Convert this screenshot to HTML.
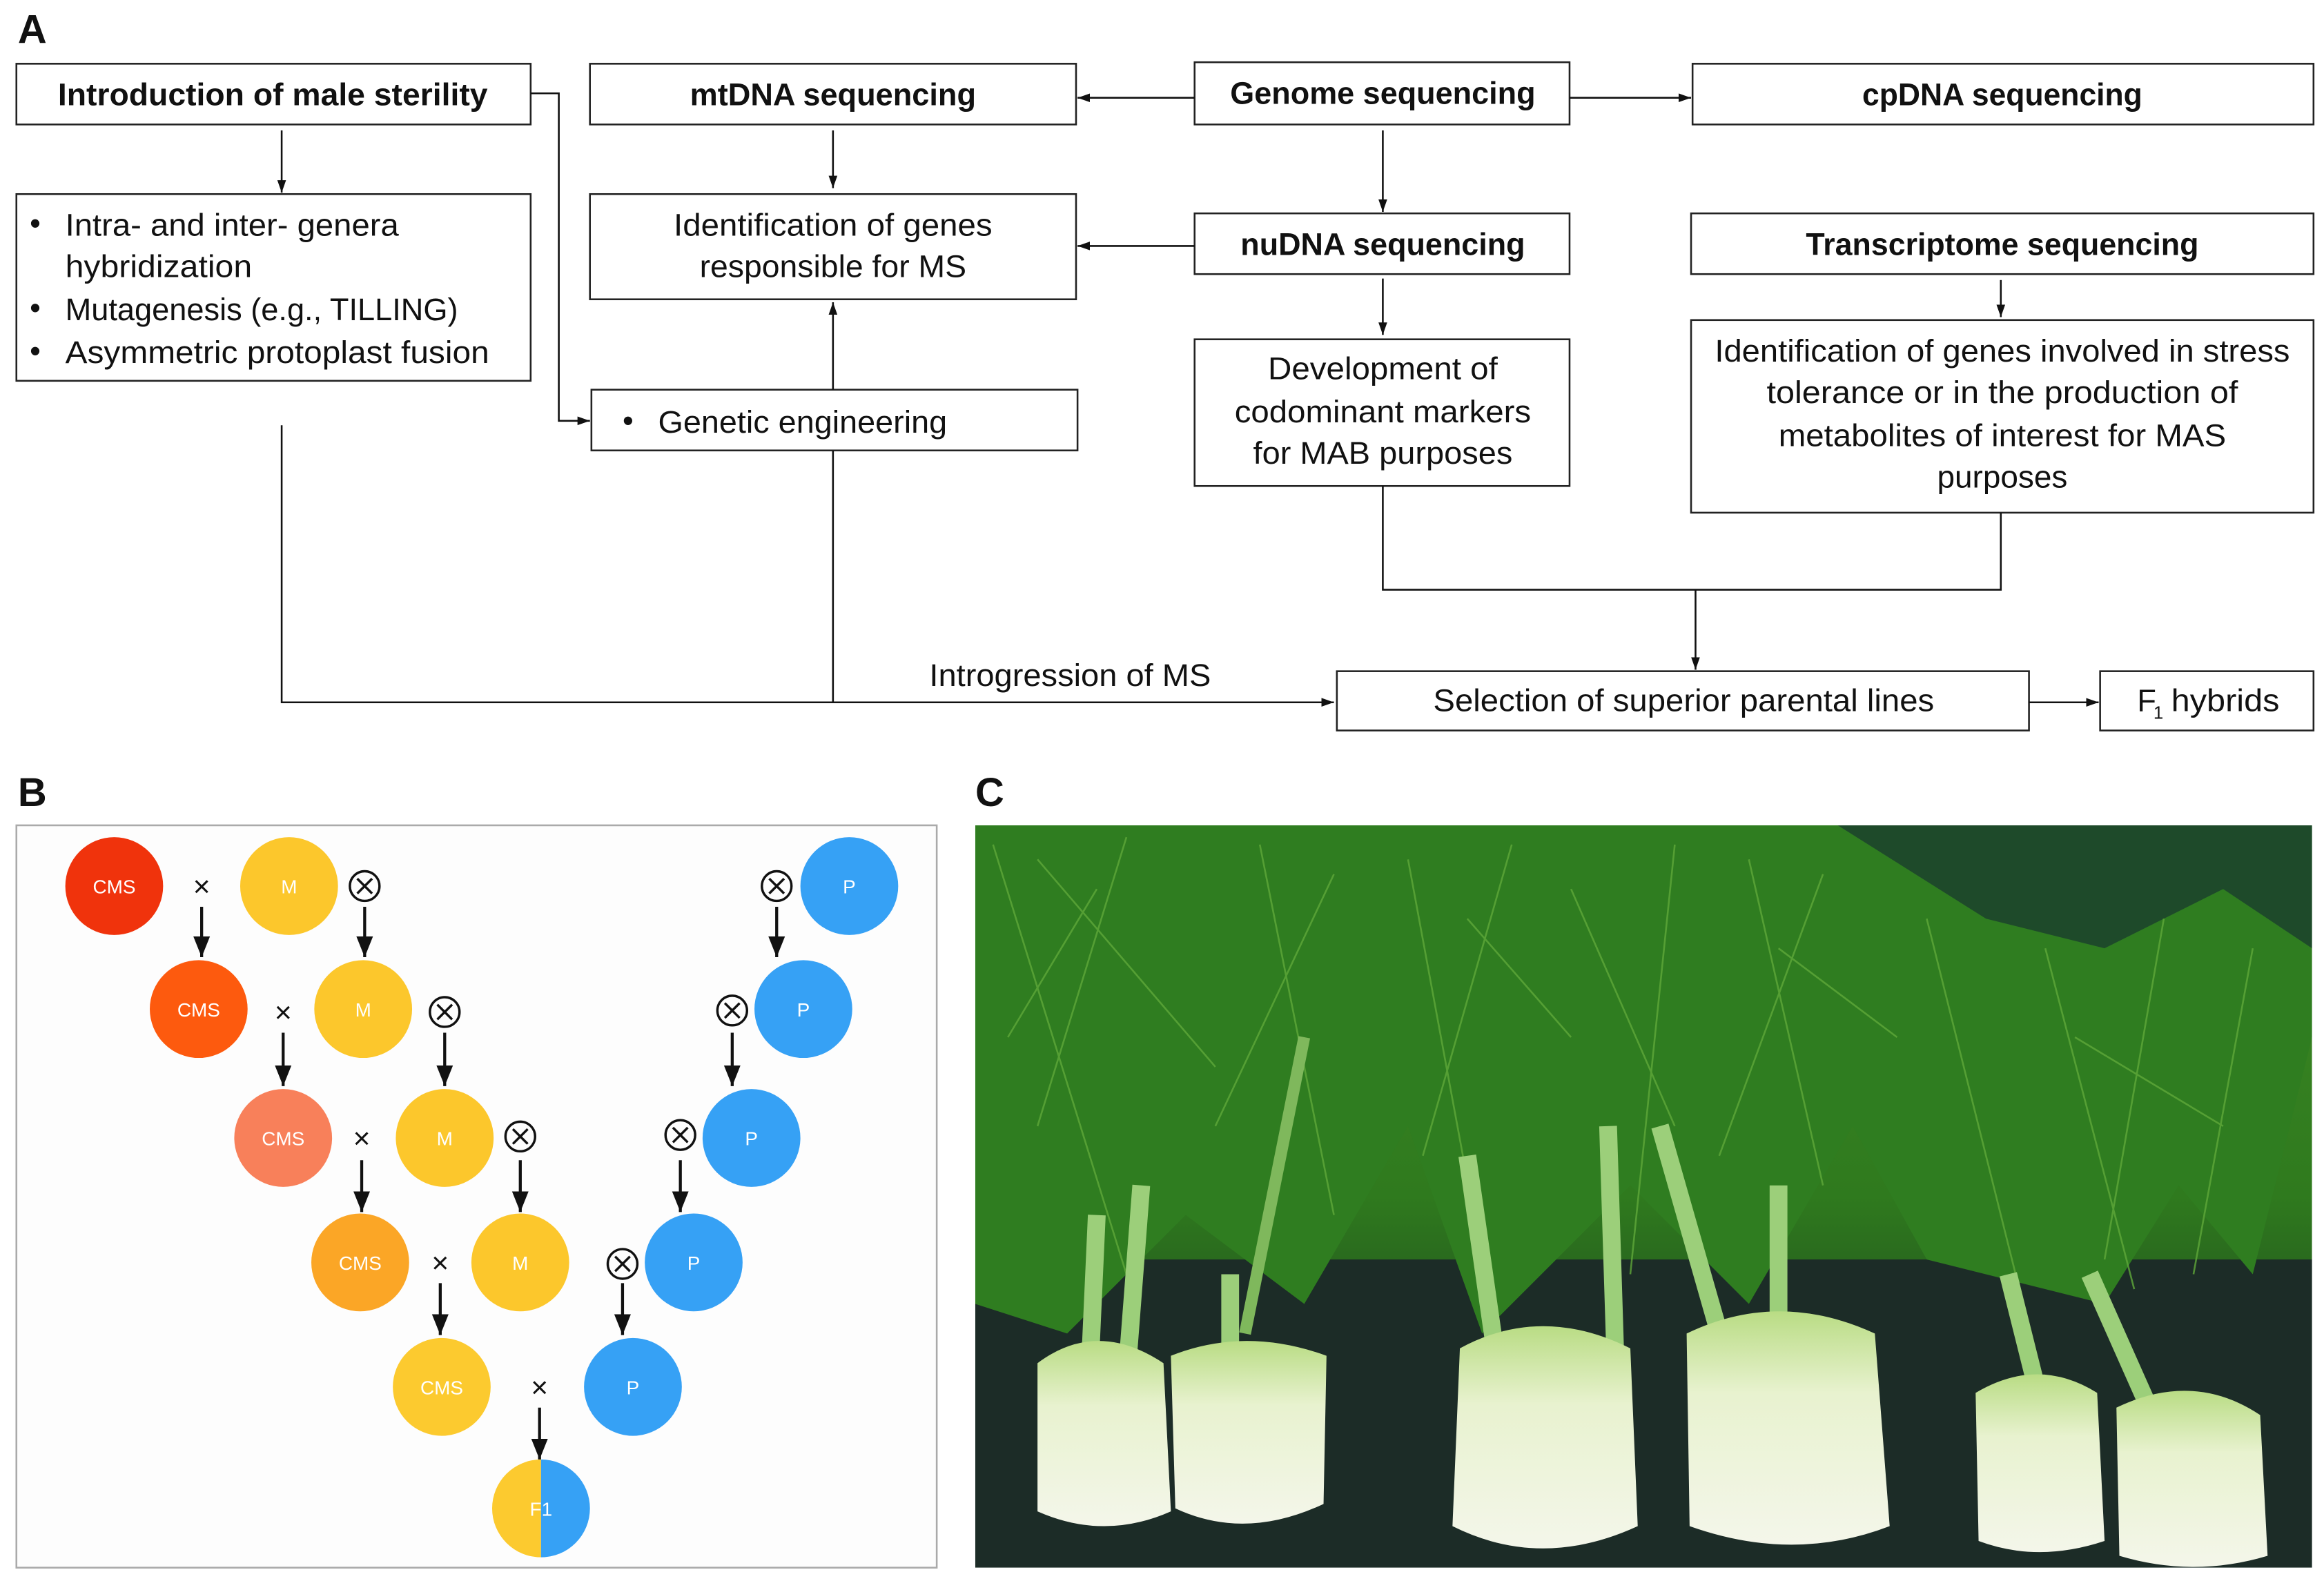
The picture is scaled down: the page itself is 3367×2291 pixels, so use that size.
<!DOCTYPE html>
<html><head><meta charset="utf-8"><style>
html,body{margin:0;padding:0;background:#fff}
svg{display:block}
text{font-family:"Liberation Sans",sans-serif;fill:#111}
.b{font-weight:bold}
</style></head><body>
<svg width="3367" height="2291" viewBox="0 0 1568 1067" xmlns="http://www.w3.org/2000/svg">
<defs>
<marker id="ar" viewBox="0 0 10 10" refX="10" refY="5" markerWidth="7" markerHeight="7" orient="auto-start-reverse"><path d="M0,1 L10,5 L0,9 z" fill="#111"/></marker>
<marker id="ar2" viewBox="0 0 10 10" refX="10" refY="5" markerWidth="7" markerHeight="7" orient="auto"><path d="M0,1.5 L10,5 L0,8.5 z" fill="#111"/></marker>
<linearGradient id="fol" x1="0" y1="0" x2="0" y2="1"><stop offset="0" stop-color="#3f8a25"/><stop offset="0.5" stop-color="#2f7a1e"/><stop offset="0.7" stop-color="#23561d"/><stop offset="1" stop-color="#1a2e25"/></linearGradient>
<linearGradient id="bulb" x1="0" y1="0" x2="0" y2="1"><stop offset="0" stop-color="#b9dc84"/><stop offset="0.35" stop-color="#e8f2cf"/><stop offset="1" stop-color="#f4f6ea"/></linearGradient>
</defs>
<g fill="none" stroke="#222" stroke-width="1.2">
<text x="12" y="29" class="b" style="font-size:27px" stroke="none">A</text>
<rect x="11" y="43" width="347" height="41"/>
<rect x="398" y="43" width="328" height="41"/>
<rect x="806" y="42" width="253" height="42"/>
<rect x="1142" y="43" width="419" height="41"/>
<rect x="11" y="131" width="347" height="126"/>
<rect x="398" y="131" width="328" height="71"/>
<rect x="806" y="144" width="253" height="41"/>
<rect x="1141" y="144" width="420" height="41"/>
<rect x="399" y="263" width="328" height="41"/>
<rect x="806" y="229" width="253" height="99"/>
<rect x="1141" y="216" width="420" height="130"/>
<rect x="902" y="453" width="467" height="40"/>
<rect x="1417" y="453" width="144" height="40"/>
</g>
<g stroke="#111" stroke-width="1.2" fill="none">
<line x1="190" y1="88" x2="190" y2="130" marker-end="url(#ar2)"/>
<polyline points="358,63 377,63 377,284 398,284" marker-end="url(#ar2)"/>
<line x1="562" y1="88" x2="562" y2="127" marker-end="url(#ar2)"/>
<line x1="806" y1="66" x2="727" y2="66" marker-end="url(#ar2)"/>
<line x1="1059" y1="66" x2="1141" y2="66" marker-end="url(#ar2)"/>
<line x1="933" y1="88" x2="933" y2="143" marker-end="url(#ar2)"/>
<line x1="806" y1="166" x2="727" y2="166" marker-end="url(#ar2)"/>
<line x1="933" y1="188" x2="933" y2="226" marker-end="url(#ar2)"/>
<line x1="1350" y1="189" x2="1350" y2="214" marker-end="url(#ar2)"/>
<line x1="562" y1="263" x2="562" y2="204" marker-end="url(#ar2)"/>
<line x1="562" y1="304" x2="562" y2="474"/>
<polyline points="190,287 190,474 900,474" marker-end="url(#ar2)"/>
<polyline points="933,328 933,398 1350,398 1350,346"/>
<line x1="1144" y1="398" x2="1144" y2="452" marker-end="url(#ar2)"/>
<line x1="1369" y1="474" x2="1416" y2="474" marker-end="url(#ar2)"/>
</g>
<g style="font-size:21px">
<text x="184" y="71" class="b" text-anchor="middle" textLength="290" lengthAdjust="spacingAndGlyphs">Introduction of male sterility</text>
<text x="562" y="71" class="b" text-anchor="middle" textLength="193" lengthAdjust="spacingAndGlyphs">mtDNA sequencing</text>
<text x="933" y="70" class="b" text-anchor="middle" textLength="206" lengthAdjust="spacingAndGlyphs">Genome sequencing</text>
<text x="1351" y="71" class="b" text-anchor="middle" textLength="189" lengthAdjust="spacingAndGlyphs">cpDNA sequencing</text>
<text x="933" y="172" class="b" text-anchor="middle" textLength="192" lengthAdjust="spacingAndGlyphs">nuDNA sequencing</text>
<text x="1351" y="172" class="b" text-anchor="middle" textLength="265" lengthAdjust="spacingAndGlyphs">Transcriptome sequencing</text>
<text x="20" y="158">•</text><text x="44" y="159" textLength="225" lengthAdjust="spacingAndGlyphs">Intra- and inter- genera</text>
<text x="44" y="187" textLength="126" lengthAdjust="spacingAndGlyphs">hybridization</text>
<text x="20" y="215">•</text><text x="44" y="216" textLength="265" lengthAdjust="spacingAndGlyphs">Mutagenesis (e.g., TILLING)</text>
<text x="20" y="244">•</text><text x="44" y="245" textLength="286" lengthAdjust="spacingAndGlyphs">Asymmetric protoplast fusion</text>
<text x="562" y="159" text-anchor="middle" textLength="215" lengthAdjust="spacingAndGlyphs">Identification of genes</text>
<text x="562" y="187" text-anchor="middle" textLength="180" lengthAdjust="spacingAndGlyphs">responsible for MS</text>
<text x="420" y="291">•</text><text x="444" y="292" textLength="195" lengthAdjust="spacingAndGlyphs">Genetic engineering</text>
<text x="933" y="256" text-anchor="middle" textLength="155" lengthAdjust="spacingAndGlyphs">Development of</text>
<text x="933" y="285" text-anchor="middle" textLength="200" lengthAdjust="spacingAndGlyphs">codominant markers</text>
<text x="933" y="313" text-anchor="middle" textLength="175" lengthAdjust="spacingAndGlyphs">for MAB purposes</text>
<text x="1351" y="244" text-anchor="middle" textLength="388" lengthAdjust="spacingAndGlyphs">Identification of genes involved in stress</text>
<text x="1351" y="272" text-anchor="middle" textLength="318" lengthAdjust="spacingAndGlyphs">tolerance or in the production of</text>
<text x="1351" y="301" text-anchor="middle" textLength="302" lengthAdjust="spacingAndGlyphs">metabolites of interest for MAS</text>
<text x="1351" y="329" text-anchor="middle" textLength="88" lengthAdjust="spacingAndGlyphs">purposes</text>
<text x="722" y="463" text-anchor="middle" textLength="190" lengthAdjust="spacingAndGlyphs">Introgression of MS</text>
<text x="1136" y="480" text-anchor="middle" textLength="338" lengthAdjust="spacingAndGlyphs">Selection of superior parental lines</text>
<text x="1442" y="480">F</text><text x="1453" y="485" style="font-size:12px">1</text><text x="1465" y="480" textLength="73" lengthAdjust="spacingAndGlyphs">hybrids</text>
</g>
<text x="12" y="544" class="b" style="font-size:27px">B</text>
<text x="658" y="544" class="b" style="font-size:27px">C</text>
<rect x="11" y="557" width="621" height="501" fill="#fdfdfd" stroke="#aaa" stroke-width="1.2"/>
<g style="font-size:13px" text-anchor="middle">
<g>
<circle cx="77" cy="598" r="33" fill="#f0330c"/><text x="77" y="603" style="fill:#fff">CMS</text>
<circle cx="195" cy="598" r="33" fill="#fcc72c"/><text x="195" y="603" style="fill:#fff">M</text>
<circle cx="573" cy="598" r="33" fill="#36a1f5"/><text x="573" y="603" style="fill:#fff">P</text>
<circle cx="134" cy="681" r="33" fill="#fd5a0e"/><text x="134" y="686" style="fill:#fff">CMS</text>
<circle cx="245" cy="681" r="33" fill="#fcc72c"/><text x="245" y="686" style="fill:#fff">M</text>
<circle cx="542" cy="681" r="33" fill="#36a1f5"/><text x="542" y="686" style="fill:#fff">P</text>
<circle cx="191" cy="768" r="33" fill="#f8805a"/><text x="191" y="773" style="fill:#fff">CMS</text>
<circle cx="300" cy="768" r="33" fill="#fcc72c"/><text x="300" y="773" style="fill:#fff">M</text>
<circle cx="507" cy="768" r="33" fill="#36a1f5"/><text x="507" y="773" style="fill:#fff">P</text>
<circle cx="243" cy="852" r="33" fill="#fba626"/><text x="243" y="857" style="fill:#fff">CMS</text>
<circle cx="351" cy="852" r="33" fill="#fcc72c"/><text x="351" y="857" style="fill:#fff">M</text>
<circle cx="468" cy="852" r="33" fill="#36a1f5"/><text x="468" y="857" style="fill:#fff">P</text>
<circle cx="298" cy="936" r="33" fill="#fcca2f"/><text x="298" y="941" style="fill:#fff">CMS</text>
<circle cx="427" cy="936" r="33" fill="#36a1f5"/><text x="427" y="941" style="fill:#fff">P</text>
<path d="M365,985 A33,33 0 0 0 365,1051 z" fill="#fcca2f"/>
<path d="M365,985 A33,33 0 0 1 365,1051 z" fill="#36a1f5"/>
<text x="365" y="1023" style="fill:#fff">F1</text>
</g>
<g style="font-size:20px">
<text x="136" y="605">×</text><text x="191" y="690">×</text><text x="244" y="775">×</text><text x="297" y="859">×</text><text x="364" y="943">×</text>
</g>
<g stroke="#111" stroke-width="1.6" fill="none">
<circle cx="246" cy="598" r="10"/><path d="M241,593 l10,10 M251,593 l-10,10"/>
<circle cx="524" cy="598" r="10"/><path d="M519,593 l10,10 M529,593 l-10,10"/>
<circle cx="300" cy="683" r="10"/><path d="M295,678 l10,10 M305,678 l-10,10"/>
<circle cx="494" cy="682" r="10"/><path d="M489,677 l10,10 M499,677 l-10,10"/>
<circle cx="351" cy="767" r="10"/><path d="M346,762 l10,10 M356,762 l-10,10"/>
<circle cx="459" cy="766" r="10"/><path d="M454,761 l10,10 M464,761 l-10,10"/>
<circle cx="420" cy="853" r="10"/><path d="M415,848 l10,10 M425,848 l-10,10"/>
<g marker-end="url(#ar)" stroke-width="2">
<line x1="136" y1="612" x2="136" y2="646"/><line x1="246" y1="612" x2="246" y2="646"/><line x1="524" y1="612" x2="524" y2="646"/>
<line x1="191" y1="697" x2="191" y2="733"/><line x1="300" y1="697" x2="300" y2="733"/><line x1="494" y1="697" x2="494" y2="733"/>
<line x1="244" y1="783" x2="244" y2="818"/><line x1="351" y1="783" x2="351" y2="818"/><line x1="459" y1="783" x2="459" y2="818"/>
<line x1="297" y1="866" x2="297" y2="901"/><line x1="420" y1="866" x2="420" y2="901"/>
<line x1="364" y1="950" x2="364" y2="985"/>
</g>
</g>
</g>
<!-- photo -->
<svg x="658" y="557" width="902" height="501" viewBox="658 557 902 501">
<rect x="658" y="557" width="902" height="501" fill="url(#fol)"/>
<rect x="658" y="850" width="902" height="208" fill="#1c2c27"/>
<path d="M658,557 H1560 V700 L1520,860 L1470,800 L1420,880 L1300,850 L1250,760 L1180,880 L1100,800 L1000,900 L950,760 L880,880 L800,820 L720,900 L658,880 Z" fill="#2f7d20"/>
<path d="M1240,557 H1560 V640 L1500,600 L1420,640 L1340,620 Z" fill="#1e4a2a"/>
<g stroke="#5fa83a" stroke-width="1.2" fill="none" opacity="0.8">
<path d="M670,570 L760,860"/><path d="M700,580 L820,720"/><path d="M760,565 L700,760"/><path d="M850,570 L900,820"/><path d="M900,590 L820,760"/>
<path d="M950,580 L1000,850"/><path d="M1020,570 L960,780"/><path d="M1060,600 L1130,760"/><path d="M1130,570 L1100,860"/><path d="M1180,580 L1230,800"/>
<path d="M1230,590 L1160,780"/><path d="M1300,620 L1360,860"/><path d="M1380,640 L1440,870"/><path d="M1460,620 L1420,850"/><path d="M1520,640 L1480,860"/>
<path d="M740,600 L680,700"/><path d="M990,620 L1060,700"/><path d="M1200,640 L1280,700"/><path d="M1400,700 L1500,760"/>
</g>
<g stroke="#9ccf7a" stroke-width="12" fill="none">
<path d="M740,820 L735,930"/><path d="M770,800 L760,930"/><path d="M830,860 L830,925"/>
<path d="M990,780 L1010,920"/><path d="M1085,760 L1090,920"/><path d="M1120,760 L1160,900"/>
<path d="M1200,800 L1200,900"/><path d="M1355,860 L1375,940"/><path d="M1410,860 L1450,950"/>
<path d="M880,700 L840,900" stroke="#7fb85c" stroke-width="8"/>
</g>
<g fill="url(#bulb)">
<path d="M700,920 Q740,890 785,920 L790,1020 Q745,1040 700,1020 Z"/>
<path d="M790,915 Q840,895 895,915 L893,1015 Q840,1040 793,1018 Z"/>
<path d="M985,910 Q1040,880 1100,910 L1105,1030 Q1040,1060 980,1030 Z"/>
<path d="M1138,900 Q1200,870 1265,900 L1275,1030 Q1210,1055 1140,1030 Z"/>
<path d="M1333,940 Q1375,915 1415,940 L1420,1040 Q1375,1055 1335,1040 Z"/>
<path d="M1428,950 Q1480,925 1525,955 L1530,1050 Q1480,1065 1430,1050 Z"/>
</g>
</svg>
</svg>
</body></html>
